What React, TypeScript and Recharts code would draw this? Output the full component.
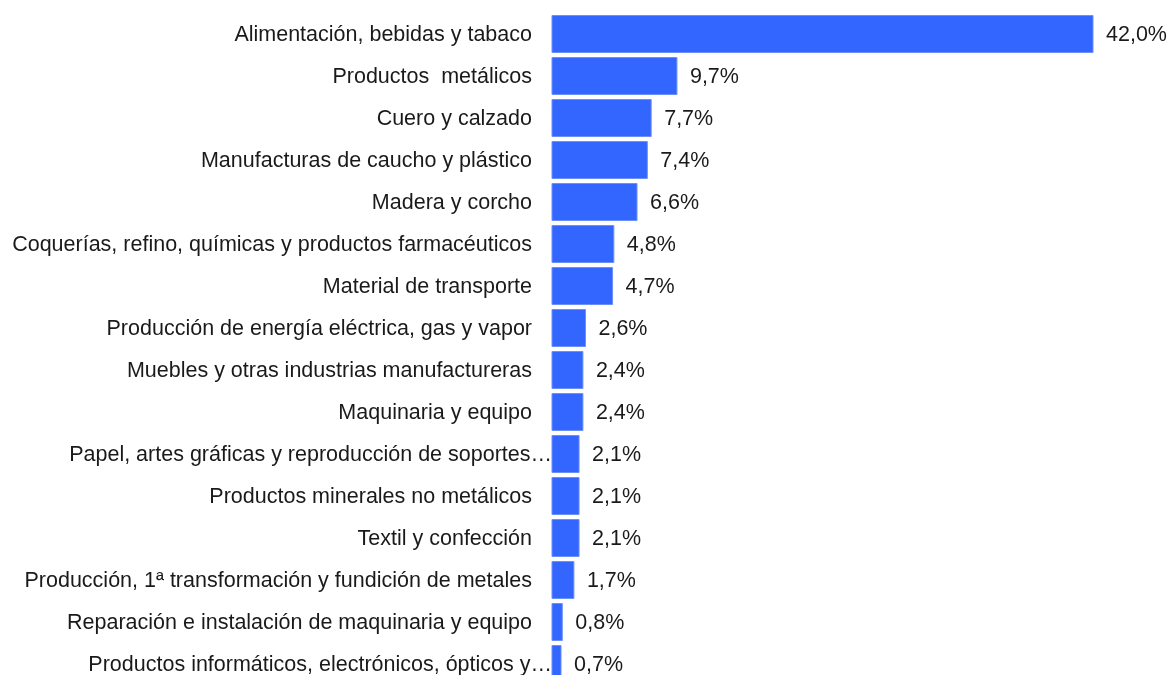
import React from "react";
import { BarChart, Bar, XAxis, YAxis, LabelList } from "recharts";

const SECTORS = [
  "Alimentación, bebidas y tabaco",
  "Productos  metálicos",
  "Cuero y calzado",
  "Manufacturas de caucho y plástico",
  "Madera y corcho",
  "Coquerías, refino, químicas y productos farmacéuticos",
  "Material de transporte",
  "Producción de energía eléctrica, gas y vapor",
  "Muebles y otras industrias manufactureras",
  "Maquinaria y equipo",
  "Papel, artes gráficas y reproducción de soportes…",
  "Productos minerales no metálicos",
  "Textil y confección",
  "Producción, 1ª transformación y fundición de metales",
  "Reparación e instalación de maquinaria y equipo",
  "Productos informáticos, electrónicos, ópticos y…"
];

const SHARES = [42.0, 9.7, 7.7, 7.4, 6.6, 4.8, 4.7, 2.6, 2.4, 2.4, 2.1, 2.1, 2.1, 1.7, 0.8, 0.7];

const data = SECTORS.map((name, i) => ({ name, value: SHARES[i] }));

const FONT = "'Liberation Sans', Arial, Helvetica, sans-serif";

const fmt = (v: number) => v.toFixed(1).replace(".", ",") + "%";

const SectorTick = (props: any) => {
  const { x, y, payload } = props;
  const cut = String(payload.value).endsWith("…");
  return (
    <text
      x={x + (cut ? 20 : 0)}
      y={y}
      dy={7}
      textAnchor="end"
      fontSize={21.5}
      fontFamily={FONT}
      fill="#1a1a1a"
      style={{ whiteSpace: "pre" }}
    >
      {payload.value}
    </text>
  );
};

// value label next to the bar end
const ValueLabel = (props: any) => {
  const { x, y, width, height, value } = props;
  return (
    <text
      x={x + width + 13}
      y={y + height / 2}
      dy={6.5}
      textAnchor="start"
      fontSize={21.5}
      fontFamily={FONT}
      fill="#1a1a1a"
    >
      {fmt(Number(value))}
    </text>
  );
};

export default function App() {
  return (
    <div style={{ position: "fixed", left: 8, top: 8, width: 1160, height: 667, overflow: "hidden" }}>
      <BarChart
        width={1160}
        height={677}
        data={data}
        layout="vertical"
        margin={{ top: 5, right: 75, bottom: 0, left: 0 }}
        barCategoryGap={2.5}
      >
        <XAxis type="number" domain={[0, 42]} hide />
        <YAxis
          type="category"
          dataKey="name"
          width={544}
          axisLine={false}
          tickLine={false}
          tickSize={0}
          tickMargin={20}
          interval={0}
          tick={<SectorTick />}
        />
        <Bar dataKey="value" fill="#3366ff" stroke="#6b8fff" strokeWidth={1} isAnimationActive={false}>
          <LabelList dataKey="value" content={<ValueLabel />} />
        </Bar>
      </BarChart>
    </div>
  );
}
